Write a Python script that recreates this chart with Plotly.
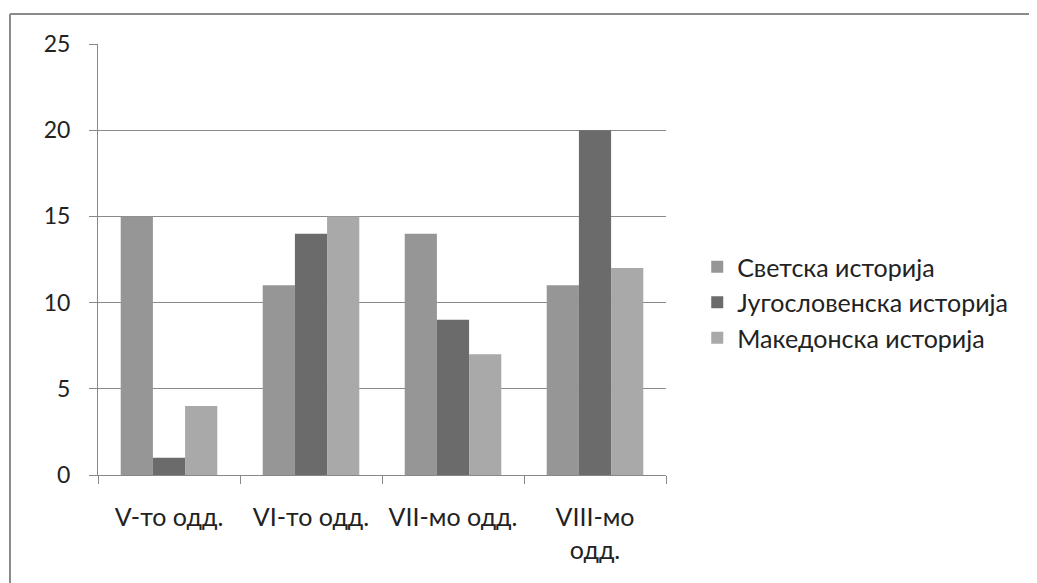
import plotly.graph_objects as go

categories = ["V-то одд.", "VI-то одд.", "VII-мо одд.", "VIII-мо<br>одд."]
series_names = ["Светска историја", "Југословенска историја", "Македонска историја"]
svetska = [15, 11, 14, 11]
jugoslovenska = [1, 14, 9, 20]
makedonska = [4, 15, 7, 12]
y_ticks = [0, 5, 10, 15, 20, 25]

colors = ["#969696", "#6b6b6b", "#a9a9a9"]

fig = go.Figure()
for name, vals, c in zip(series_names, [svetska, jugoslovenska, makedonska], colors):
    fig.add_trace(go.Bar(x=categories, y=vals, name=name, marker=dict(color=c, line=dict(width=0))))

OFF = 8  # page body margin
W, H = 1037 - OFF, 583 - OFF
L, R, T, B = 98 - OFF, 666 - OFF, 44 - OFF, 475 - OFF

def px(x):
    return (x - OFF - L) / (R - L)

def py(y):
    return (B - (y - OFF)) / (B - T)

FONT = "Lato, Carlito, Open Sans, sans-serif"

fig.update_layout(
    width=W, height=H,
    margin=dict(l=L, r=W - R, t=T, b=H - B, pad=0),
    paper_bgcolor="white", plot_bgcolor="white",
    barmode="group", bargap=0.32, bargroupgap=0,
    font=dict(family=FONT, size=24, color="#222"),
    legend=dict(x=1.055, xanchor="left", y=0.40, yanchor="middle",
                font=dict(size=25, color="#222"), itemwidth=30,
                tracegroupgap=2, bgcolor="rgba(0,0,0,0)"),
    showlegend=True,
    shapes=[
        dict(type="line", xref="paper", yref="paper", x0=px(10), x1=px(1037), y0=py(14), y1=py(14),
             line=dict(color="#8a8a8a", width=2)),
        dict(type="line", xref="paper", yref="paper", x0=px(10), x1=px(10), y0=py(14), y1=py(583),
             line=dict(color="#8a8a8a", width=2)),
    ],
)
fig.update_xaxes(
    showline=True, linecolor="#888", linewidth=1,
    ticks="outside", tickson="boundaries", ticklen=8, tickcolor="#888",
    ticklabelstandoff=20, showgrid=False,
    tickfont=dict(size=25, color="#222"),
)
fig.update_yaxes(
    range=[0, 25], tickvals=y_ticks, showline=True, linecolor="#888", linewidth=1,
    showgrid=True, gridcolor="#8a8a8a", gridwidth=1,
    ticks="outside", ticklen=8, tickcolor="#888",
    ticklabelstandoff=14, zeroline=False,
    tickfont=dict(size=23, color="#222"),
)
fig.write_html("out.html")
